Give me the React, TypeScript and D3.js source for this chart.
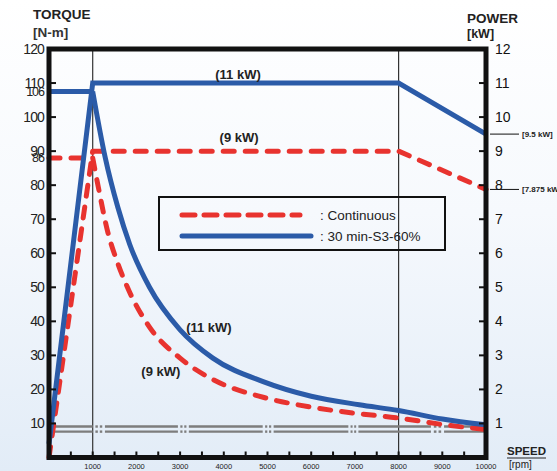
import React from "react";
import * as d3 from "d3";

const W = 557;
const H = 471;

// ---- data ----
const speedLabels = [1000, 2000, 3000, 4000, 5000, 6000, 7000, 8000, 9000, 10000];
const speedMinorTicks = [500, 1000, 1500, 2000, 2500, 3000, 3500, 4000, 4500, 5000, 5500, 6000, 6500, 7000, 7500, 8000, 8500, 9000, 9500];
const torqueTicks = [10, 20, 30, 40, 50, 60, 70, 80, 90, 100, 110, 120];
const torqueSpecialValues = [107.5, 88];
const torqueSpecialLabels = ["106", "86"];
const powerTicks = [1, 2, 3, 4, 5, 6, 7, 8, 9, 10, 11, 12];
const cornerSpeeds = [1000, 8000];

// 30 min S3-60% (blue)
const blueFlatSpeed = [0, 1000];
const blueFlatTorque = [107.5, 107.5];
const blueTorqueSpeed = [1000, 1280, 1575, 1850, 2300, 3000, 3750, 4900, 6000, 7100, 8000, 9000, 10000];
const blueTorque = [107.5, 88.5, 73.5, 62.5, 50, 37.5, 29.2, 22.3, 18, 15.5, 13.8, 11.3, 9.6];
const bluePowerSpeed = [0, 1000, 8000, 10000];
const bluePower = [0.4, 11, 11, 9.5];

// Continuous (red)
const redFlatSpeed = [0, 1000];
const redFlatTorque = [88, 88];
const redTorqueSpeed = [1000, 1120, 1350, 1575, 1830, 2300, 3000, 3750, 4900, 6000, 7000, 8000, 9000, 10000];
const redTorque = [88, 80, 66, 57, 49, 38.3, 29.2, 22.9, 17.7, 14.8, 13, 11.6, 9.7, 8.2];
const redPowerSpeed = [0, 1000, 8000, 10000];
const redPower = [0, 9, 9, 7.875];

// grey double reference line
const guideLevels = [9.1, 7.6];
const guideBreaks: [number, number][] = [[1000, 1280], [2950, 3200], [4890, 5140], [6850, 7080], [8740, 9040]];

const endLabels = ["[9.5 kW]", "[7.875 kW]"];
const endValues = [9.5, 7.875];

const BLUE = "#2b5ba8";
const RED = "#e8332f";
const FONT = "'Liberation Sans', Arial, Helvetica, sans-serif";

export default function App() {
  const x = d3.scaleLinear().domain([0, 10000]).range([49, 486]);
  const y = d3.scaleLinear().domain([0, 120]).range([457.5, 49]);
  const yR = d3.scaleLinear().domain([0, 12]).range([457.5, 49]);

  const torqueCurve = d3
    .line<[number, number]>()
    .x((d) => x(d[0]))
    .y((d) => y(d[1]))
    .curve(d3.curveMonotoneX);
  const torqueFlat = d3
    .line<[number, number]>()
    .x((d) => x(d[0]))
    .y((d) => y(d[1]));
  const powerLine = d3
    .line<[number, number]>()
    .x((d) => x(d[0]))
    .y((d) => yR(d[1]));

  const zip = (a: number[], b: number[]) => a.map((s, i) => [s, b[i]] as [number, number]);

  const blueT = torqueCurve(zip(blueTorqueSpeed, blueTorque))!;
  const blueF = torqueFlat(zip(blueFlatSpeed, blueFlatTorque))!;
  const redT = torqueCurve(zip(redTorqueSpeed, redTorque))!;
  const redF = torqueFlat(zip(redFlatSpeed, redFlatTorque))!;
  const blueP = powerLine(zip(bluePowerSpeed, bluePower))!;
  const redP = powerLine(zip(redPowerSpeed, redPower))!;

  // guide line segments
  const guideSegs: [number, number][] = [];
  let start = 0;
  guideBreaks.forEach(([a, b]) => {
    guideSegs.push([start, a]);
    const w = b - a;
    guideSegs.push([a + 0.22 * w, a + 0.42 * w]);
    guideSegs.push([a + 0.58 * w, a + 0.78 * w]);
    start = b;
  });
  guideSegs.push([start, 10000]);

  const left = x(0);
  const right = x(10000);
  const top = y(120);
  const bottom = y(0);

  const dashMain = "11 11";

  return (
    <div style={{ position: "absolute", left: 0, top: 0 }}>
      <svg width={W} height={H} style={{ display: "block", fontFamily: FONT }}>
        <defs>
          <linearGradient id="bg" x1="0" y1="0" x2="0" y2="1">
            <stop offset="0%" stopColor="#ffffff" />
            <stop offset="45%" stopColor="#f6f9fd" />
            <stop offset="100%" stopColor="#e2ecf7" />
          </linearGradient>
        </defs>
        <rect x={0} y={0} width={W} height={H} fill="url(#bg)" />

        {/* titles */}
        <text x={33} y={19} fontSize={13.5} fontWeight="bold" fill="#222">TORQUE</text>
        <text x={33} y={37} fontSize={13.5} fontWeight="bold" fill="#333">[N-m]</text>
        <text x={467} y={23} fontSize={13.5} fontWeight="bold" fill="#222">POWER</text>
        <text x={467} y={38} fontSize={12.5} fontWeight="bold" fill="#222">[kW]</text>

        {/* corner speed vertical lines */}
        {cornerSpeeds.map((s) => (
          <line key={s} x1={x(s)} x2={x(s)} y1={top} y2={bottom} stroke="#333" strokeWidth={1.2} />
        ))}

        {/* grey double guide line */}
        {guideLevels.map((lv) =>
          guideSegs.map(([a, b], i) => (
            <line key={lv + "-" + i} x1={x(a)} x2={x(b)} y1={y(lv)} y2={y(lv)} stroke="#7d7d7d" strokeWidth={2.4} />
          ))
        )}

        {/* curves */}
        <path d={redF} fill="none" stroke={RED} strokeWidth={5} strokeDasharray={dashMain} strokeLinecap="round" />
        <path d={redT} fill="none" stroke={RED} strokeWidth={5} strokeDasharray={dashMain} strokeLinecap="round" />
        <path d={redP} fill="none" stroke={RED} strokeWidth={5} strokeDasharray={dashMain} strokeLinecap="round" strokeLinejoin="round" />
        <path d={blueF} fill="none" stroke={BLUE} strokeWidth={5} />
        <path d={blueT} fill="none" stroke={BLUE} strokeWidth={5} />
        <path d={blueP} fill="none" stroke={BLUE} strokeWidth={5} strokeLinejoin="miter" />

        {/* frame */}
        <rect x={left} y={top} width={right - left} height={bottom - top} fill="none" stroke="#111" strokeWidth={5} />

        {/* left ticks */}
        {torqueTicks.map((t) => (
          <g key={"lt" + t}>
            {t < 120 && <line x1={left} x2={left + 7} y1={y(t)} y2={y(t)} stroke="#111" strokeWidth={2} />}
            <text x={44} y={y(t) + 5} textAnchor="end" fontSize={14} letterSpacing={-0.9} fill="#222">{t}</text>
          </g>
        ))}
        {torqueSpecialValues.map((t, i) => (
          <text key={"ls" + i} x={44} y={y(t) + 4.5} textAnchor="end" fontSize={12.5} letterSpacing={-1} fill="#222">
            {torqueSpecialLabels[i]}
          </text>
        ))}

        {/* right ticks */}
        {powerTicks.map((p) => (
          <g key={"rt" + p}>
            {p < 12 && <line x1={right - 7} x2={right} y1={yR(p)} y2={yR(p)} stroke="#111" strokeWidth={2} />}
            <text x={495} y={yR(p) + 5} fontSize={14} fill="#111">{p}</text>
          </g>
        ))}

        {/* x ticks */}
        {speedMinorTicks.map((s) => (
          <line key={"xt" + s} x1={x(s)} x2={x(s)} y1={bottom} y2={bottom - 6} stroke="#111" strokeWidth={2} />
        ))}
        {speedLabels.map((s) => (
          <text key={"xl" + s} x={x(s)} y={469} textAnchor="middle" fontSize={7.5} fill="#222">{s}</text>
        ))}
        <text x={507} y={455} fontSize={11.5} fontWeight="bold" fill="#222">SPEED</text>
        <line x1={507} x2={546} y1={458} y2={458} stroke="#222" strokeWidth={1} />
        <text x={509} y={468} fontSize={10} fill="#222">[rpm]</text>

        {/* end-power annotations */}
        {endValues.map((v, i) => (
          <g key={"ev" + i}>
            <line x1={right + 4} x2={right + 33} y1={yR(v)} y2={yR(v)} stroke="#111" strokeWidth={1} />
            <text x={right + 36} y={yR(v) + 3} fontSize={8} fontWeight="bold" fill="#222">{endLabels[i]}</text>
          </g>
        ))}

        {/* curve labels */}
        <text x={x(4325)} y={yR(11) - 4.5} textAnchor="middle" fontSize={13} fontWeight="bold" fill="#222">(11 kW)</text>
        <text x={x(4350)} y={yR(9) - 9} textAnchor="middle" fontSize={13} fontWeight="bold" fill="#222">(9 kW)</text>
        <text x={x(3660)} y={y(37)} textAnchor="middle" fontSize={13} fontWeight="bold" fill="#222">(11 kW)</text>
        <text x={x(2560)} y={y(23.8)} textAnchor="middle" fontSize={13} fontWeight="bold" fill="#222">(9 kW)</text>

        {/* legend */}
        <rect x={159} y={197} width={286} height={53} fill="none" stroke="#111" strokeWidth={2} />
        <line x1={182} x2={300} y1={215} y2={215} stroke={RED} strokeWidth={5} strokeDasharray="13 9" strokeLinecap="round" />
        <line x1={182} x2={311} y1={236} y2={236} stroke={BLUE} strokeWidth={5} strokeLinecap="round" />
        <text x={320} y={219.5} fontSize={13.5} fill="#222">: Continuous</text>
        <text x={320} y={241} fontSize={13.5} fill="#222">: 30 min-S3-60%</text>
      </svg>
    </div>
  );
}
